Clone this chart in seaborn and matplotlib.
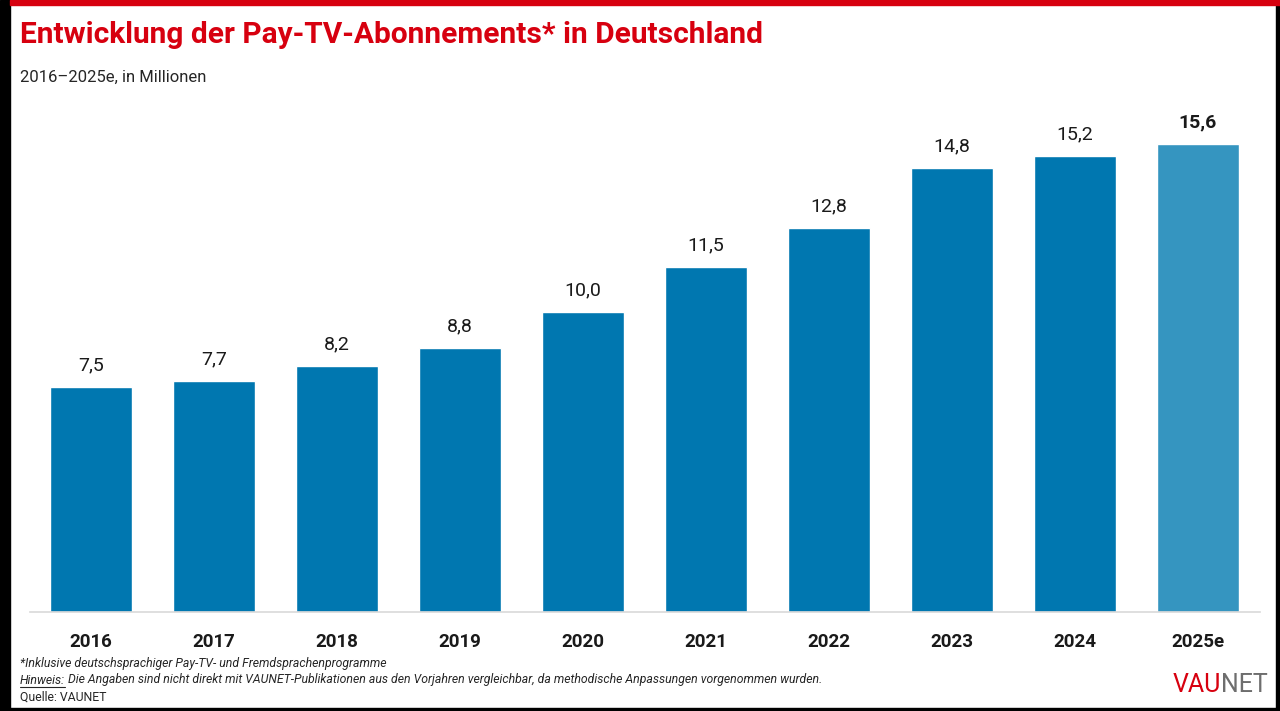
import matplotlib
matplotlib.use("Agg")
import matplotlib.pyplot as plt
from matplotlib.patches import Rectangle
from matplotlib.lines import Line2D
import seaborn as sns
import pandas as pd

years = ["2016", "2017", "2018", "2019", "2020", "2021", "2022", "2023", "2024", "2025e"]
values = [7.5, 7.7, 8.2, 8.8, 10.0, 11.5, 12.8, 14.8, 15.2, 15.6]
labels = ["7,5", "7,7", "8,2", "8,8", "10,0", "11,5", "12,8", "14,8", "15,2", "15,6"]
kind = ["actual"] * 9 + ["estimate"]

title = "Entwicklung der Pay-TV-Abonnements* in Deutschland"
subtitle = "2016–2025e, in Millionen"
note1 = "*Inklusive deutschsprachiger Pay-TV- und Fremdsprachenprogramme"
note2_head = "Hinweis:"
note2_body = " Die Angaben sind nicht direkt mit VAUNET-Publikationen aus den Vorjahren vergleichbar, da methodische Anpassungen vorgenommen wurden."
source = "Quelle: VAUNET"

sns.set_theme(style="white")
FONT = ["Roboto", "DejaVu Sans"]
plt.rcParams["font.family"] = FONT

df = pd.DataFrame({"year": years, "value": values, "kind": kind})
palette = {"actual": "#0077b0", "estimate": "#3595c0"}

W, H = 1280, 711
fig = plt.figure(figsize=(W / 100, H / 100), dpi=100)
fig.patch.set_facecolor("white")

def fx(px):
    return px / W

def fy(py):
    return 1 - py / H

ax = fig.add_axes([fx(29.5), fy(612), fx(1259.5) - fx(29.5), fy(100) - fy(612)])
sns.barplot(data=df, x="year", y="value", hue="kind", palette=palette,
            dodge=False, width=0.667, legend=False, ax=ax, saturation=1)
ax.set_xlim(-0.5, 9.5)
ax.set_ylim(0, 512 / 30)
ax.set_xlabel("")
ax.set_ylabel("")
ax.set_yticks([])
for s in ["top", "right", "left"]:
    ax.spines[s].set_visible(False)
ax.spines["bottom"].set_color("#d9d9d9")
ax.spines["bottom"].set_linewidth(1.2)
ax.tick_params(axis="x", length=0, pad=15)
for t in ax.get_xticklabels():
    t.set_fontsize(13.5)
    t.set_fontweight("bold")
    t.set_color("#1a1a1a")

for i, (v, lab) in enumerate(zip(values, labels)):
    ax.annotate(lab, (i, v), xytext=(0, 9), textcoords="offset points",
                ha="center", va="bottom", fontsize=14, color="#1a1a1a",
                fontweight="bold" if i == len(values) - 1 else "normal")

# frame decorations
fig.patches.append(Rectangle((0, 0), fx(10), 1, transform=fig.transFigure, color="black", zorder=10))
fig.patches.append(Rectangle((fx(1276), 0), 1 - fx(1276), 1, transform=fig.transFigure, color="black", zorder=10))
fig.patches.append(Rectangle((0, 0), 1, fy(708), transform=fig.transFigure, color="black", zorder=10))
fig.patches.append(Rectangle((fx(10), fy(5)), 1 - fx(10), 1 - fy(5), transform=fig.transFigure, color="#d7000f", zorder=11))

fig.text(fx(20), fy(35), title, fontsize=21.5, fontweight="bold", color="#d7000f", va="center", ha="left")
fig.text(fx(20), fy(77), subtitle, fontsize=12, color="#262626", va="center", ha="left")

fs_note = 8.8
fig.text(fx(20), fy(663), note1, fontsize=fs_note, style="italic", color="#262626", va="center", ha="left")
h = fig.text(fx(20), fy(680), note2_head, fontsize=fs_note, style="italic", color="#262626", va="center", ha="left")
fig.canvas.draw()
bb = h.get_window_extent(fig.canvas.get_renderer())
fig.text(bb.x1 / W, fy(680), note2_body, fontsize=fs_note, style="italic", color="#262626", va="center", ha="left")
fig.lines.append(Line2D([bb.x0 / W, bb.x1 / W], [fy(687), fy(687)], transform=fig.transFigure, color="#262626", lw=0.8))
fig.text(fx(20), fy(697), source, fontsize=fs_note, color="#262626", va="center", ha="left")

n = fig.text(fx(1268), fy(685), "NET", fontsize=18, color="#6e6e6e", va="center", ha="right")
fig.canvas.draw()
nb = n.get_window_extent(fig.canvas.get_renderer())
fig.text(nb.x0 / W, fy(685), "VAU", fontsize=18, color="#d7000f", va="center", ha="right")

fig.savefig("out.png", dpi=100)
